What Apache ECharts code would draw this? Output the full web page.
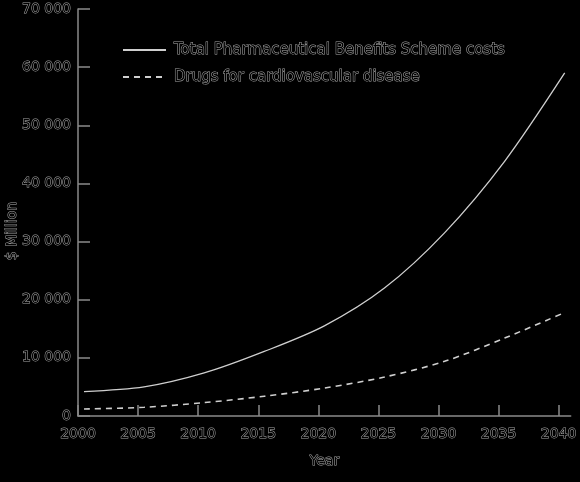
<!DOCTYPE html>
<html>
<head>
<meta charset="utf-8">
<script src="https://cdn.jsdelivr.net/npm/echarts@6/dist/echarts.min.js"></script>
<style>
  html, body { margin: 0; padding: 0; background: #000; }
  #chart { width: 580px; height: 482px; }
</style>
</head>
<body>
<div id="chart"></div>
<script>
// fiscal years, plotted at mid-year
const years = [2000.5, 2005.5, 2010.5, 2015.5, 2020.5, 2025.5, 2030.5, 2035.5, 2040.5];
const totalPbs = [4200, 5000, 7400, 11100, 15500, 22000, 31500, 43800, 59000];
const cardio = [1200, 1500, 2300, 3400, 4800, 6700, 9400, 13400, 17800];
const xTicks = [2000, 2005, 2010, 2015, 2020, 2025, 2030, 2035, 2040];

const textStyle = {
    color: '#000',
    textBorderColor: '#a8a8a8',
    textBorderWidth: 1,
    fontFamily: 'DejaVu Sans',
    fontSize: 14
};

document.addEventListener("DOMContentLoaded", () => {
    const el = document.getElementById("chart");
    const chart = echarts.init(el);

    const pair = (vals) => years.map((y, i) => [y, vals[i]]);

    const option = {
        backgroundColor: '#000',
        animation: false,
        grid: { left: 78, right: 7, top: 9, bottom: 66 },
        legend: {
            orient: 'vertical',
            left: 122,
            top: 42,
            padding: 0,
            itemWidth: 43,
            itemHeight: 14,
            itemGap: 11,
            itemStyle: { opacity: 0 },
            textStyle: Object.assign({}, textStyle, { fontSize: 15, padding: [0, 0, 0, 3] }),
            data: ['Total Pharmaceutical Benefits Scheme costs', 'Drugs for cardiovascular disease']
        },
        xAxis: {
            type: 'value',
            min: 2000,
            max: 2041,
            name: 'Year',
            nameLocation: 'middle',
            nameGap: 38,
            nameTextStyle: textStyle,
            axisLine: { lineStyle: { color: '#8a8a8a', width: 1.5 } },
            axisTick: { inside: true, length: 11, customValues: xTicks, lineStyle: { color: '#8a8a8a', width: 1.5 } },
            axisLabel: Object.assign({}, textStyle, { customValues: xTicks, margin: 11, formatter: v => String(v) }),
            splitLine: { show: false }
        },
        yAxis: {
            type: 'value',
            min: 0,
            max: 70000,
            interval: 10000,
            axisLine: { show: true, lineStyle: { color: '#8a8a8a', width: 1.5 } },
            axisTick: { show: true, inside: true, length: 12, lineStyle: { color: '#8a8a8a', width: 1.5 } },
            axisLabel: Object.assign({}, textStyle, {
                margin: 7,
                formatter: v => String(v).replace(/\B(?=(\d{3})+(?!\d))/g, ' ')
            }),
            splitLine: { show: false }
        },
        graphic: [{
            type: 'text',
            x: 12,
            y: 231,
            rotation: Math.PI / 2,
            style: {
                text: '$ Million',
                fill: '#000',
                stroke: '#a8a8a8',
                lineWidth: 1,
                font: '14px "DejaVu Sans"',
                align: 'center',
                verticalAlign: 'middle'
            }
        }],
        series: [
            {
                name: 'Total Pharmaceutical Benefits Scheme costs',
                type: 'line',
                smooth: 0.3,
                symbol: 'none',
                data: pair(totalPbs),
                itemStyle: { color: '#cfcfcf' },
                lineStyle: { color: '#cfcfcf', width: 1.3 }
            },
            {
                name: 'Drugs for cardiovascular disease',
                type: 'line',
                smooth: 0.3,
                symbol: 'none',
                data: pair(cardio),
                itemStyle: { color: '#cfcfcf' },
                lineStyle: { color: '#cfcfcf', width: 1.6, type: [6, 5] }
            }
        ]
    };

    chart.setOption(option);
    window.addEventListener("resize", () => chart.resize());
});
</script>
</body>
</html>
